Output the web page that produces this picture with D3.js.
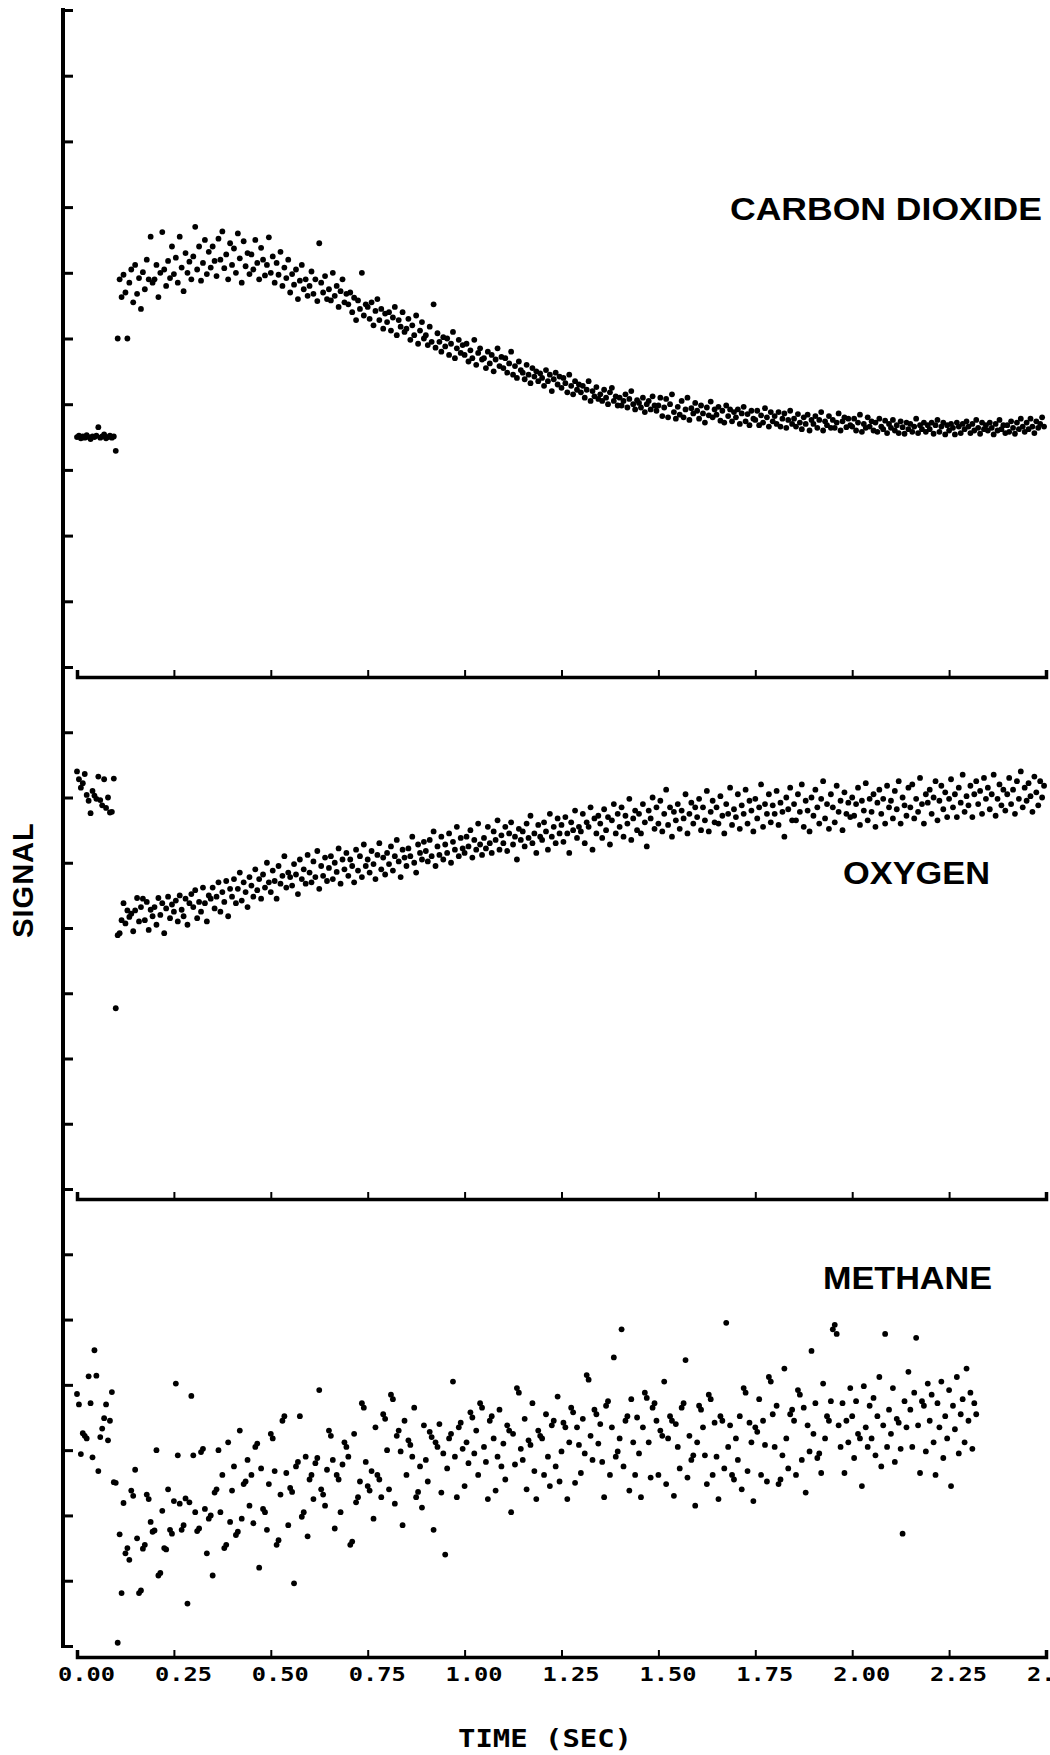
<!DOCTYPE html>
<html>
<head>
<meta charset="utf-8">
<script src="https://cdn.jsdelivr.net/npm/d3@7/dist/d3.min.js"></script>
<style>
  body{margin:0;background:#fff;}
  svg{display:block;}
</style>
</head>
<body>
<svg id="chart" width="1050" height="1755"></svg>
<script>
"use strict";
//Recorder sample interval, seconds
var sampleStep = 0.005;

//X axis ticks (seconds) and their printed labels (last one runs off the page)
var timeTicks = [0, 0.25, 0.5, 0.75, 1.0, 1.25, 1.5, 1.75, 2.0, 2.25, 2.5];
var timeLabels = ["0.00", "0.25", "0.50", "0.75", "1.00", "1.25", "1.50", "1.75", "2.00", "2.25", "2."];

//Panel names, top to bottom
var gasNames = ["CARBON DIOXIDE", "OXYGEN", "METHANE"];

//Signal in y-tick units x100, one value per sample
var co2Signal = [
  350,352,348,351,349,353,350,347,351,350,352,365,349,351,354,348,350,352,349,351,
  329,500,590,563,597,570,500,585,605,555,612,568,592,545,601,575,620,590,655,585,
  590,612,563,600,662,605,580,618,592,640,598,623,585,655,608,572,630,600,617,590,
  625,670,605,640,588,615,650,598,632,608,640,618,595,652,620,663,607,628,590,645,
  612,637,600,660,622,585,648,610,630,598,628,605,650,615,590,638,620,596,612,654,
  600,625,585,615,597,632,580,608,592,620,570,598,582,605,560,588,612,575,590,565,
  580,602,568,590,557,645,585,570,595,560,575,558,600,565,580,548,572,590,555,568,
  552,570,540,562,528,558,545,600,535,552,548,530,555,520,542,560,528,545,515,538,
  525,540,512,532,548,505,528,518,540,510,515,530,498,520,505,535,492,512,525,500,
  505,490,518,495,552,486,508,495,480,502,488,500,475,492,510,470,485,498,478,490,
  475,492,465,482,470,498,460,478,485,468,470,455,480,462,475,450,468,485,458,472,
  455,470,448,462,480,445,458,440,465,452,448,438,460,445,432,455,442,450,435,447,
  440,428,452,435,445,420,438,448,430,442,425,440,432,418,445,428,415,435,422,430,
  418,428,410,422,435,405,420,412,426,408,415,405,422,410,400,418,425,405,412,398,
  410,398,405,415,395,408,420,400,392,406,402,395,410,388,400,405,392,412,398,390,
  398,410,382,395,408,380,400,415,388,378,396,384,405,380,392,410,376,394,386,402,
  390,378,398,386,372,395,383,404,380,392,384,396,375,390,372,398,382,392,374,388,
  380,392,370,386,396,374,385,368,390,378,376,390,368,383,372,394,380,366,388,374,
  382,370,388,366,378,386,364,376,390,370,378,366,385,372,362,380,370,384,360,376,
  370,382,364,376,388,360,374,368,382,364,376,364,372,386,360,374,380,365,378,368,
  366,378,360,372,384,358,370,364,380,366,374,360,372,358,378,366,362,375,356,370,
  364,376,360,368,356,374,365,355,372,362,370,358,366,378,356,368,362,372,358,368,
  362,372,355,368,376,358,366,372,354,368,360,370,364,354,372,366,356,370,362,374,
  366,356,370,360,376,364,355,372,362,368,360,372,364,354,370,360,376,362,368,356,
  368,358,374,364,355,372,362,378,366,358,372,362,378,366,356,374,364,370,380,366
];

var o2Signal = [
  640,628,615,622,636,604,595,576,610,603,598,632,596,588,628,584,600,577,578,629,
  277,389,392,412,438,407,427,417,422,395,427,446,410,432,445,412,440,397,428,418,
  432,405,446,420,438,392,430,448,415,436,425,442,410,450,428,418,445,405,438,452,
  432,458,415,440,425,462,438,410,450,445,462,430,448,470,425,455,440,472,418,460,
  448,475,438,460,485,442,470,455,432,478,465,448,490,458,475,445,482,462,500,470,
  455,488,472,445,495,468,480,510,462,485,478,465,498,482,452,505,475,490,468,512,
  485,470,502,478,518,460,495,480,508,472,492,510,475,500,486,522,468,505,490,515,
  480,505,495,470,520,488,510,478,528,495,505,485,518,498,475,512,530,490,508,482,
  515,498,525,488,510,535,502,478,520,508,495,522,510,540,500,485,528,515,505,532,
  518,502,535,510,548,495,525,512,540,505,528,515,545,500,532,520,555,510,538,522,
  515,540,525,550,508,535,520,560,528,512,538,522,555,530,515,548,535,565,520,542,
  530,555,518,545,562,528,540,505,552,535,548,525,560,538,572,530,545,515,558,540,
  535,562,548,520,575,540,555,530,568,545,558,532,570,545,515,562,550,580,538,555,
  548,575,530,562,555,585,520,568,545,572,560,538,582,550,570,528,565,590,545,575,
  555,585,540,572,560,598,535,568,580,550,575,545,590,562,525,580,568,600,552,585,
  560,595,548,575,612,558,585,540,578,565,590,552,580,568,605,545,575,592,560,585,
  570,598,550,585,565,610,548,578,595,562,585,560,602,572,545,590,575,615,558,582,
  570,605,552,588,575,612,560,595,580,548,598,568,585,620,555,590,575,605,562,588,
  575,610,558,592,578,540,600,582,615,565,590,565,605,578,620,555,595,580,548,600,
  572,612,585,560,598,625,568,590,552,605,585,562,618,578,595,550,608,575,592,570,
  600,572,590,615,558,595,580,622,565,598,578,605,555,592,612,575,598,560,618,585,
  595,568,610,582,625,560,600,588,572,615,585,620,568,598,578,630,590,560,605,592,
  612,575,600,625,565,595,618,582,608,570,598,628,585,605,570,615,592,635,578,602,
  588,618,570,605,625,590,610,575,630,598,615,582,605,635,572,598,620,588,612,580,
  605,630,590,612,575,625,598,640,585,615,595,622,602,578,632,608,588,625,600,618
];

var ch4Signal = [
  386,370,294,326,322,318,413,372,289,453,414,268,320,333,349,370,315,345,389,251,
  250,5,171,81,219,142,150,132,238,230,270,165,81,85,149,155,232,225,190,175,
  177,300,108,112,207,150,148,240,178,172,222,402,292,218,178,185,226,65,220,383,
  292,205,176,180,297,302,210,142,195,200,108,235,240,300,205,262,150,155,312,190,
  238,275,170,175,330,195,248,252,285,215,262,188,305,310,120,272,210,205,178,248,
  325,318,268,155,162,232,345,352,265,185,242,236,96,275,282,352,198,205,290,168,
  255,262,225,280,288,392,240,232,215,270,330,322,285,180,262,255,205,278,312,305,
  290,155,160,325,220,228,252,372,365,282,245,238,268,195,335,262,255,228,355,348,
  300,240,385,378,218,322,330,298,185,345,262,315,308,290,365,228,236,275,212,338,
  285,252,328,320,178,312,305,340,235,295,140,272,318,325,405,290,228,335,342,302,
  245,312,280,358,350,295,330,262,372,365,305,282,225,345,352,318,238,290,362,275,
  310,255,338,330,205,325,278,395,388,302,285,348,240,315,308,372,268,225,330,322,
  318,262,355,290,245,338,345,275,382,252,298,342,335,225,312,365,358,250,335,308,
  265,348,295,415,408,322,285,362,355,310,340,282,228,368,375,262,335,442,290,298,
  318,485,275,345,352,238,378,312,262,350,295,228,335,388,380,312,258,365,372,345,
  262,330,322,405,248,318,352,345,230,340,305,272,365,372,438,258,322,285,292,215,
  312,368,362,335,292,248,385,378,262,342,290,225,352,345,272,495,305,338,262,255,
  318,285,352,240,395,388,268,342,312,222,335,328,378,262,345,308,252,412,405,355,
  305,368,248,255,292,425,318,272,355,362,345,262,392,385,285,365,235,338,298,452,
  325,372,288,295,265,402,318,352,345,375,485,492,478,338,305,372,265,345,312,395,
  352,288,375,325,318,245,398,335,305,368,318,380,292,352,412,275,338,478,305,362,
  325,395,282,348,342,302,172,375,335,420,362,305,388,472,338,265,375,368,298,402,
  345,385,312,262,372,335,405,288,352,318,392,245,368,332,412,295,355,378,312,425,
  345,388,302,372,355
];

//----------------------------------------
//Layout

var svg = d3.select("#chart"),
    axisX = 63,
    x = d3.scaleLinear().domain([0, 2.5]).range([77, 1046]);

//Each panel: its signal, number of y tick steps, pixel range, x axis line, name placement
var panels = [
  {name: gasNames[0], values: co2Signal, steps: 10, bottom: 667, top: 10, axisY: 677, nameX: 1042, nameY: 220, nameLen: 312},
  {name: gasNames[1], values: o2Signal, steps: 8, bottom: 1189, top: 667, axisY: 1199, nameX: 990, nameY: 884, nameLen: 147},
  {name: gasNames[2], values: ch4Signal, steps: 7, bottom: 1646, top: 1189, axisY: 1657, nameX: 992, nameY: 1289, nameLen: 169}
];

//Left spine
svg.append("line")
    .attr("x1", axisX).attr("x2", axisX)
    .attr("y1", 8).attr("y2", 1648)
    .style("stroke", "#000")
    .style("stroke-width", 4);

panels.forEach(function(p){
    var y = d3.scaleLinear().domain([0, p.steps]).range([p.bottom, p.top]);

    //y ticks pointing in
    var yAxis = svg.append("g")
        .attr("transform", "translate(" + axisX + ",0)")
        .call(d3.axisRight(y).tickValues(d3.range(p.steps + 1)).tickSize(10).tickFormat(""));
    yAxis.select(".domain").remove();
    yAxis.selectAll(".tick line").style("stroke", "#000").style("stroke-width", 3);

    //time axis with up ticks
    var xAxis = svg.append("g")
        .attr("transform", "translate(0," + p.axisY + ")")
        .call(d3.axisTop(x).tickValues(timeTicks).tickSize(7).tickSizeOuter(7).tickFormat(""));
    xAxis.select(".domain").style("stroke", "#000").style("stroke-width", 3.5);
    xAxis.selectAll(".tick line").style("stroke", "#000").style("stroke-width", 2);

    //the samples
    svg.append("g")
        .selectAll("circle")
        .data(p.values)
        .join("circle")
        .attr("cx", function(d, i){ return x(i * sampleStep); })
        .attr("cy", function(d){ return y(d / 100); })
        .attr("r", 2.9)
        .style("fill", "#000");

    svg.append("text")
        .attr("x", p.nameX)
        .attr("y", p.nameY)
        .attr("text-anchor", "end")
        .attr("textLength", p.nameLen)
        .attr("lengthAdjust", "spacingAndGlyphs")
        .style("font-family", "'Liberation Sans', Arial, sans-serif")
        .style("font-weight", "bold")
        .style("font-size", "31px")
        .text(p.name);
});

//Time labels under the last axis, left edge 19px before the tick
svg.append("g")
    .selectAll("text")
    .data(timeTicks)
    .join("text")
    .attr("x", function(d){ return x(d) - 19; })
    .attr("y", 1681)
    .attr("text-anchor", "start")
    .attr("textLength", function(d, i){ return 57 * timeLabels[i].length / 4; })
    .attr("lengthAdjust", "spacingAndGlyphs")
    .style("font-family", "'DejaVu Sans Mono', monospace")
    .style("font-weight", "bold")
    .style("font-size", "19px")
    .text(function(d, i){ return timeLabels[i]; });

svg.append("text")
    .attr("x", 545)
    .attr("y", 1747)
    .attr("text-anchor", "middle")
    .attr("textLength", 174)
    .attr("lengthAdjust", "spacingAndGlyphs")
    .style("font-family", "'DejaVu Sans Mono', monospace")
    .style("font-weight", "bold")
    .style("font-size", "24px")
    .text("TIME (SEC)");

svg.append("text")
    .attr("transform", "translate(33,880) rotate(-90)")
    .attr("text-anchor", "middle")
    .style("font-family", "'Liberation Sans', Arial, sans-serif")
    .style("font-weight", "bold")
    .style("font-size", "29px")
    .style("letter-spacing", "1px")
    .text("SIGNAL");
</script>
</body>
</html>
